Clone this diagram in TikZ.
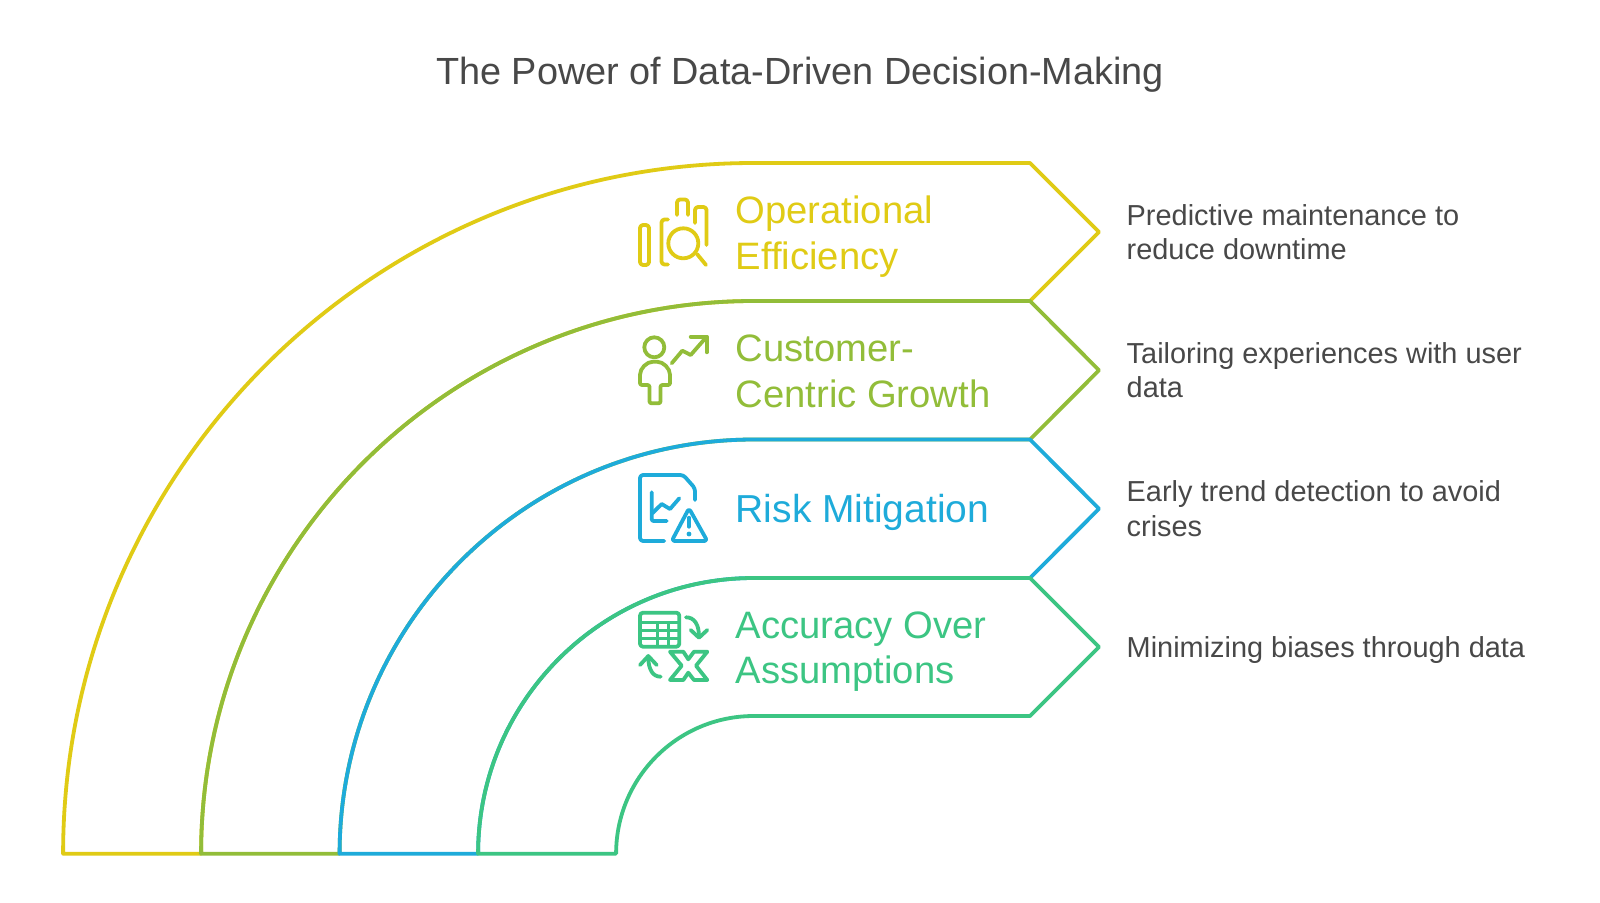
\documentclass[tikz,border=0pt]{standalone}
\usepackage{fontspec}
\setmainfont{Liberation Sans}
\definecolor{cy}{HTML}{E0CB15}
\definecolor{cg}{HTML}{92BD39}
\definecolor{cb}{HTML}{1EABDA}
\definecolor{ct}{HTML}{3CC583}
\definecolor{ink}{HTML}{484848}
\tikzset{
  band/.style={line width=3.8pt,line join=round,fill=none},
  icon/.style={line width=3.8pt,line join=round,line cap=round},
  head/.style={anchor=base west,align=left,inner sep=0pt,font=\fontsize{38.2}{45.7}\selectfont},
  note/.style={anchor=base west,align=left,inner sep=0pt,text=ink,font=\fontsize{28.9}{34.4}\selectfont},
}
\newcommand{\bandshape}[2]{%
  \pgfmathsetmacro{\ro}{853.7-#1}\pgfmathsetmacro{\ri}{853.7-#2}%
  \pgfmathsetmacro{\tip}{(#1+#2)/2}%
  \draw[band] (753.8-\ro,853.7) arc[start angle=180,end angle=90,x radius=\ro,y radius=-\ro]
    -- (1030,#1) -- (1099,\tip) -- (1030,#2) -- (753.8,#2)
    arc[start angle=90,end angle=180,x radius=\ri,y radius=-\ri] -- cycle;}
\begin{document}
\begin{tikzpicture}[x=1pt,y=-1pt]
\useasboundingbox (0,0) rectangle (1600,902);
\fill[white] (0,0) rectangle (1600,902);
\node[anchor=base,inner sep=0pt,text=ink,font=\fontsize{37.85}{44}\selectfont] (title) at (800,84.5) {The Power of Data-Driven Decision-Making};
\begin{scope}[cy] \bandshape{163}{301} \end{scope}
\begin{scope}[cg] \bandshape{301}{439.5} \end{scope}
\begin{scope}[cb] \bandshape{439.5}{578} \end{scope}
\begin{scope}[ct] \bandshape{578}{716} \end{scope}
% icon 1
\begin{scope}[cy,icon]
\draw[rounded corners=3pt] (640,225) rectangle (649,265);
\draw[rounded corners=3pt] (668,219.5) -- (661.5,219.5) -- (661.5,264.5) -- (668,264.5);
\draw[rounded corners=3pt] (677,215) -- (677,199.5) -- (688,199.5) -- (688,215);
\draw[rounded corners=3pt] (695,223) -- (695,207) -- (706.5,207) -- (706.5,245);
\draw (683.3,243.3) circle[radius=15];
\draw (697,254) -- (706,265);
\end{scope}
% icon 2
\begin{scope}[cg,icon]
\draw (654.3,347.3) circle[radius=10];
\draw[rounded corners=2pt] (640,376.7) arc[start angle=180,end angle=90,radius=15,y radius=-15] arc[start angle=90,end angle=0,radius=15,y radius=-15] -- (670,385) -- (660.5,385) -- (660.5,403.3) -- (649.5,403.3) -- (649.5,385) -- (640,385) -- cycle;
\draw (671.7,363.3) -- (682.3,350.7) -- (690.7,355) -- (706.7,336.7);
\draw (690.7,336.7) -- (706.7,336.7) -- (706.7,352.3);
\end{scope}
% icon 3
\begin{scope}[cb,icon]
\draw[rounded corners=3pt] (664.3,541) -- (640,541) -- (640,475) -- (683.3,475) -- (695,488.3) -- (695,500);
\draw[rounded corners=2pt] (651.7,492.3) -- (651.7,521) -- (666.7,521);
\draw (652.3,513.3) -- (661.7,504) -- (670,509) -- (679.3,498.3);
\draw[rounded corners=3pt] (689,508.3) -- (707.3,541) -- (671.7,541) -- cycle;
\draw (689,517.7) -- (689,526.7);
\fill (689,534) circle[radius=2.4];
\end{scope}
% icon 4
\begin{scope}[ct,icon]
\draw[rounded corners=3pt] (640,612.7) rectangle (679.3,646.7);
\draw[line width=3.2pt,line cap=butt] (640,622.7) -- (679.3,622.7) (640,630.7) -- (679.3,630.7) (640,638.7) -- (679.3,638.7)
  (657.7,622.7) -- (657.7,646.7) (668.3,622.7) -- (668.3,646.7);
\draw (686,617.3) .. controls (694,617.3) and (699,624) .. (699,636.7);
\draw (690.7,630) -- (699,637.7) -- (707.3,630);
\draw (660.7,676.7) .. controls (653,676.7) and (648.3,670) .. (648.3,656.7);
\draw (640,665) -- (648.3,656) -- (656.7,665);
\draw (670,651.7) -- (683.3,651.7) -- (688.3,659.3) -- (694,651.7) -- (707.3,651.7) -- (696,665.7) -- (707.3,680) -- (694,680) -- (688.3,672.7) -- (683.3,680) -- (670,680) -- (681.7,665.7) -- cycle;
\end{scope}
\node[head,text=cy] (h1) at (735.5,269) {Operational\\Efficiency};
\node[head,text=cg] (h2) at (735.5,407.3) {Customer-\\Centric Growth};
\node[head,text=cb,font=\fontsize{39}{45.7}\selectfont] (h3) at (735.5,522.5) {Risk Mitigation};
\node[head,text=ct] (h4) at (735.5,683.8) {Accuracy Over\\Assumptions};
\node[note] (n1) at (1126.5,259.4) {Predictive maintenance to\\reduce downtime};
\node[note] (n2) at (1126.5,397.9) {Tailoring experiences with user\\data};
\node[note] (n3) at (1126.5,536.1) {Early trend detection to avoid\\crises};
\node[note] (n4) at (1126.5,657.3) {Minimizing biases through data};
\end{tikzpicture}
\end{document}
